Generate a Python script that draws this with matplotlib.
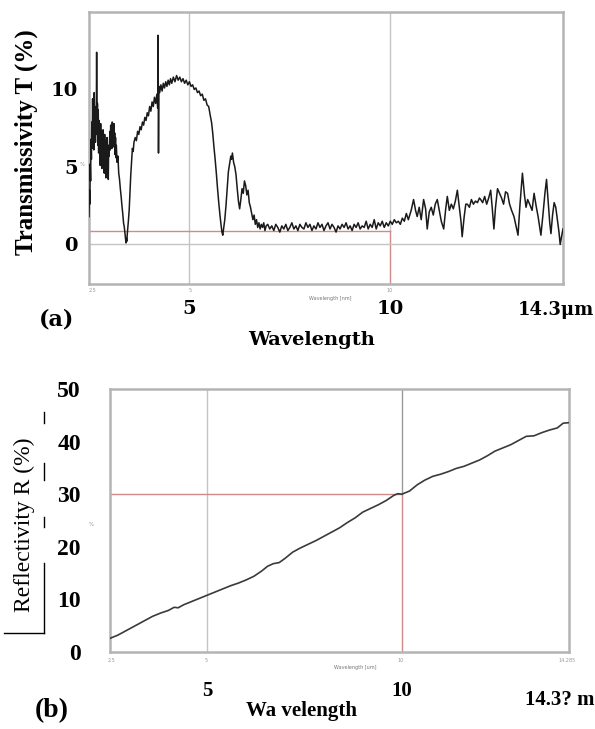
import matplotlib
matplotlib.use("Agg")
import matplotlib.pyplot as plt
from matplotlib.lines import Line2D

# ---------------- data: panel (a) transmissivity ----------------
wl_T = [2.50, 2.51, 2.52, 2.53, 2.54, 2.55, 2.56, 2.57, 2.58, 2.59, 2.60, 2.61, 2.62, 2.63, 2.64, 2.65,
        2.66, 2.67, 2.68, 2.69, 2.70, 2.71, 2.72, 2.73, 2.74, 2.75, 2.76, 2.77, 2.78, 2.79, 2.80, 2.81,
        2.82, 2.83, 2.84, 2.85, 2.86, 2.87, 2.88, 2.89, 2.90, 2.91, 2.92, 2.93, 2.94, 2.95, 2.96, 2.97,
        2.98, 2.99, 3.00, 3.02, 3.03, 3.04, 3.05, 3.06, 3.07, 3.08, 3.09, 3.10, 3.11, 3.12, 3.13, 3.14,
        3.15, 3.16, 3.17, 3.18, 3.20, 3.22, 3.24, 3.26, 3.28, 3.30, 3.32, 3.34, 3.36, 3.38, 3.40, 3.42,
        3.43, 3.44, 3.46, 3.48, 3.50, 3.52, 3.54, 3.56, 3.58, 3.60, 3.62,
        3.65, 3.68, 3.71, 3.74, 3.77, 3.80, 3.83, 3.86, 3.89, 3.92, 3.95, 3.98, 4.01, 4.04, 4.07, 4.10,
        4.13, 4.16, 4.19, 4.21, 4.22, 4.23, 4.24, 4.26, 4.29, 4.32, 4.35, 4.38, 4.41, 4.44, 4.47, 4.50,
        4.53, 4.56, 4.60, 4.64, 4.68, 4.72, 4.76, 4.80, 4.84, 4.88, 4.92, 4.96, 5.00, 5.04, 5.08, 5.12,
        5.16, 5.20, 5.24, 5.28, 5.32, 5.36, 5.40, 5.44, 5.48, 5.52, 5.55, 5.58, 5.61, 5.64, 5.67, 5.70,
        5.73, 5.76, 5.79, 5.81, 5.83, 5.85, 5.88, 5.91, 5.94, 5.97, 6.00, 6.03, 6.05, 6.07, 6.10, 6.13,
        6.16, 6.19, 6.22, 6.25, 6.28, 6.31, 6.34, 6.37, 6.40, 6.43, 6.46, 6.49, 6.52, 6.55, 6.58, 6.61,
        6.64, 6.67, 6.70, 6.73, 6.76, 6.79, 6.82, 6.85, 6.88, 6.91,
        6.95, 7.00, 7.05, 7.10, 7.15, 7.20, 7.25, 7.30, 7.35, 7.40, 7.45, 7.50, 7.55, 7.60, 7.65, 7.70,
        7.75, 7.80, 7.85, 7.90, 7.95, 8.00, 8.05, 8.10, 8.15, 8.20, 8.25, 8.30, 8.35, 8.40, 8.45, 8.50,
        8.55, 8.60, 8.65, 8.70, 8.75, 8.80, 8.85, 8.90, 8.95, 9.00, 9.05, 9.10, 9.15, 9.20, 9.25, 9.30,
        9.35, 9.40, 9.45, 9.50, 9.55, 9.60, 9.65, 9.70, 9.75, 9.80, 9.85, 9.90, 9.95, 10.00, 10.05, 10.10,
        10.15, 10.20, 10.25, 10.30, 10.35, 10.40, 10.45,
        10.52, 10.58, 10.63, 10.67, 10.72, 10.77, 10.83, 10.88, 10.92, 10.97, 11.02, 11.07, 11.12, 11.17,
        11.22, 11.27, 11.33, 11.38, 11.42, 11.47, 11.52, 11.57, 11.62, 11.67, 11.72, 11.76, 11.79, 11.84,
        11.88, 11.92, 11.97, 12.02, 12.07, 12.12, 12.17, 12.22, 12.25, 12.30, 12.35, 12.40, 12.45, 12.50,
        12.54, 12.58, 12.62, 12.67, 12.72, 12.77, 12.82, 12.87, 12.92, 12.97, 13.02, 13.08, 13.13, 13.18,
        13.23, 13.29, 13.34, 13.38, 13.42, 13.47, 13.53, 13.58, 13.63, 13.68, 13.72, 13.75, 13.80, 13.85,
        13.89, 13.93, 13.97, 14.00, 14.04, 14.08, 14.12, 14.16, 14.20, 14.23, 14.27, 14.30]

T_pct = [1.8, 3.5, 2.6, 5.2, 4.1, 6.8, 5.5, 7.9, 6.2, 9.4, 7.0, 8.6, 6.1, 9.8, 7.3, 8.9,
         6.6, 8.2, 7.1, 12.4, 7.6, 9.1, 6.4, 8.7, 5.9, 8.0, 6.3, 7.5, 5.1, 7.8, 6.0, 7.3,
         4.9, 6.9, 5.6, 7.4, 5.2, 6.6, 4.6, 7.1, 5.8, 6.7, 4.3, 6.2, 5.4, 6.9, 4.8, 6.0,
         4.2, 6.4, 5.7, 7.3, 6.1, 7.7, 6.5, 7.4, 6.2, 7.9, 6.8, 7.5, 6.3, 7.8, 6.6, 7.2,
         5.8, 6.9, 5.6, 6.4, 5.3, 5.7, 4.6, 4.2, 3.6, 3.1, 2.5, 2.0, 1.4, 1.1, 0.6, 0.1,
         0.4, 0.2, 0.9, 1.5, 2.2, 3.4, 4.5, 5.3, 6.2, 6.0, 6.6,
         6.9, 6.7, 7.3, 7.1, 7.6, 7.4, 7.9, 7.7, 8.2, 8.0, 8.5, 8.3, 8.9, 8.6, 9.2, 8.9,
         9.5, 9.1, 9.7, 8.8, 13.5, 5.9, 10.2, 9.8, 10.3, 9.9, 10.4, 10.1, 10.5, 10.2, 10.6, 10.3,
         10.7, 10.4, 10.8, 10.5, 10.9, 10.6, 10.8, 10.5, 10.7, 10.4, 10.6, 10.3, 10.5, 10.2, 10.3, 10.0,
         10.1, 9.8, 9.9, 9.6, 9.7, 9.3, 9.4, 9.0, 8.9, 8.3, 7.9, 7.2, 6.3, 5.5, 4.6, 3.6,
         2.7, 1.9, 1.2, 0.8, 0.6, 1.0, 1.6, 2.5, 3.6, 4.7, 5.2, 5.7, 5.5, 5.9, 5.3, 5.0,
         4.5, 3.6, 2.8, 2.3, 2.9, 3.6, 3.3, 4.1, 3.8, 3.2, 3.5, 2.7, 2.4, 2.0, 1.6, 1.9,
         1.3, 1.6, 1.1, 1.4, 1.0, 1.3, 1.1, 1.4, 0.9, 1.2,
         1.3, 1.0, 1.2, 0.9, 1.3, 1.1, 0.8, 1.2, 1.0, 1.3, 0.9, 1.1, 1.4, 1.0, 1.2, 0.9,
         1.3, 1.1, 1.0, 1.4, 1.1, 1.3, 0.9, 1.2, 1.0, 1.4, 1.1, 1.3, 0.9, 1.2, 1.4, 1.0,
         1.3, 1.1, 0.8, 1.2, 1.0, 1.3, 1.1, 1.4, 1.0, 1.2, 0.9, 1.3, 1.1, 1.4, 1.0, 1.2,
         1.1, 1.5, 1.0, 1.3, 1.1, 1.6, 1.0, 1.4, 1.2, 1.5, 1.1, 1.4, 1.2, 1.5, 1.3, 1.6,
         1.4, 1.5, 1.3, 1.7, 1.5, 2.0, 1.6,
         2.2, 2.9, 2.2, 1.8, 2.4, 1.6, 2.9, 2.3, 1.0, 2.1, 2.4, 1.9, 2.6, 2.9,
         2.2, 1.5, 1.0, 2.3, 3.1, 2.2, 2.6, 2.3, 2.8, 3.5, 2.4, 1.5, 0.5, 1.8,
         2.6, 2.6, 2.4, 2.9, 2.6, 2.8, 2.7, 3.0, 2.9, 2.7, 3.1, 2.6, 3.0, 3.5,
         2.3, 1.0, 2.4, 3.6, 3.3, 3.0, 2.6, 3.4, 3.3, 2.6, 2.2, 1.8, 1.2, 0.6,
         2.6, 4.6, 3.2, 2.4, 2.9, 2.6, 2.2, 3.3, 2.5, 1.8, 1.1, 0.6, 1.9, 3.3,
         4.2, 2.8, 1.4, 0.7, 1.9, 2.7, 2.4, 1.6, 0.8, 0.0, 0.6, 1.0]

T_ref_level = 0.84          # red reference level in (a)
T_yticks = [0, 5, 10]
T_yticklabels = ["0", "5", "10"]
T_xticks = [5, 10]
T_xticklabels = ["5", "10"]

# ---------------- data: panel (b) reflectivity ----------------
wl_R = [2.50, 2.60, 2.70, 2.85, 3.00, 3.20, 3.40, 3.60, 3.80, 4.00, 4.15, 4.25, 4.40, 4.60, 4.80,
        5.00, 5.20, 5.40, 5.60, 5.80, 6.00, 6.20, 6.40, 6.55, 6.70, 6.85, 7.00, 7.20, 7.40, 7.60,
        7.80, 8.00, 8.20, 8.40, 8.60, 8.80, 9.00, 9.20, 9.40, 9.60, 9.80, 9.90, 10.00, 10.20,
        10.40, 10.60, 10.80, 11.00, 11.20, 11.40, 11.60, 11.80, 12.00, 12.20, 12.40, 12.60, 12.80,
        13.00, 13.20, 13.40, 13.60, 13.80, 14.00, 14.15, 14.30]
R_pct = [2.6, 2.9, 3.2, 3.8, 4.4, 5.2, 6.0, 6.8, 7.4, 7.9, 8.5, 8.4, 9.0, 9.6, 10.2,
         10.8, 11.4, 12.0, 12.6, 13.1, 13.7, 14.4, 15.4, 16.3, 16.8, 17.0, 17.8, 19.0, 19.8, 20.5,
         21.2, 22.0, 22.8, 23.6, 24.6, 25.5, 26.6, 27.3, 28.0, 28.8, 29.8, 30.1, 30.0, 30.6,
         31.8, 32.7, 33.4, 33.8, 34.3, 34.9, 35.3, 35.9, 36.5, 37.3, 38.2, 38.8, 39.4,
         40.2, 41.0, 41.1, 41.7, 42.2, 42.6, 43.5, 43.6]

R_ref_level = 30
R_yticks = [0, 10, 20, 30, 40, 50]
R_yticklabels = ["0", "10", "20", "30", "40", "50"]
R_xticks = [5, 10]
R_xticklabels = ["5", "10"]

# ---------------- figure ----------------
W, H = 595, 729
fig = plt.figure(figsize=(W / 100, H / 100), dpi=100)
fig.patch.set_facecolor("white")


def fx(px):
    return px / W


def fy(py):
    return 1 - py / H


def axes_rect(l, t, r, b):
    return [fx(l), fy(b), fx(r) - fx(l), fy(t) - fy(b)]


GRID = "#c4c4c4"
RED = "#cf8a8a"
SPINE = "#b4b4b4"
SERIF_A = ["DejaVu Serif"]
SERIF_B = ["Liberation Serif"]

# ----- panel (a) -----
axA = fig.add_axes(axes_rect(89, 12, 563, 284))
axA.set_xlim(2.5, 14.3)
axA.set_ylim(-2.55, 15.0)
for s in axA.spines.values():
    s.set_color(SPINE)
    s.set_linewidth(1.8)
axA.axvline(5, color=GRID, lw=1.0, zorder=1)
axA.plot([10, 10], [T_ref_level, 15.0], color=GRID, lw=1.0, zorder=1)
axA.plot([10, 10], [-2.55, T_ref_level], color=RED, lw=1.0, zorder=1)
axA.axhline(0, color=GRID, lw=1.0, zorder=1)
axA.plot([2.5, 10], [T_ref_level, T_ref_level], color=RED, lw=1.0, zorder=1)
axA.plot(wl_T, T_pct, color="#1a1a1a", lw=1.1, zorder=3)

axA.set_yticks(T_yticks)
axA.set_yticklabels(T_yticklabels, fontfamily=SERIF_A, fontweight="bold", fontsize=14)
axA.set_xticks(T_xticks)
axA.set_xticklabels(T_xticklabels, fontfamily=SERIF_A, fontweight="bold", fontsize=14)
axA.tick_params(axis="y", length=0, pad=8)
axA.tick_params(axis="x", length=0, pad=11.5)

fig.text(fx(556), fy(310), "14.3\u03bcm", fontfamily=SERIF_A, fontweight="bold", fontsize=13,
         ha="center", va="center")
fig.text(fx(312), fy(340), "Wavelength", fontfamily=SERIF_A, fontweight="bold", fontsize=14,
         ha="center", va="center")
fig.text(fx(57), fy(320), "(a)", fontfamily=SERIF_A, fontweight="bold", fontsize=16,
         ha="center", va="center")
fig.text(fx(26), fy(142), "Transmissivity T (%)", fontfamily=SERIF_B, fontweight="bold",
         fontsize=18, rotation=90, ha="center", va="center")
# tiny instrument labels
fig.text(fx(330), fy(299), "Wavelength [nm]", fontsize=3.5, color="#777777", ha="center", va="center")
fig.text(fx(92), fy(290), "2.5", fontsize=3.5, color="#999999", ha="center", va="center")
fig.text(fx(190), fy(290), "5", fontsize=3.5, color="#999999", ha="center", va="center")
fig.text(fx(390), fy(290), "10", fontsize=3.5, color="#999999", ha="center", va="center")
fig.text(fx(82), fy(164), "%", fontsize=4, color="#999999", ha="center", va="center")

# ----- panel (b) -----
axB = fig.add_axes(axes_rect(110, 389, 569, 652))
axB.set_xlim(2.5, 14.3)
axB.set_ylim(0, 50)
for s in axB.spines.values():
    s.set_color(SPINE)
    s.set_linewidth(1.8)
axB.axvline(5, color=GRID, lw=1.0, zorder=1)
axB.plot([10, 10], [R_ref_level, 50], color="#9a9a9a", lw=1.0, zorder=1)
axB.plot([10, 10], [0, R_ref_level], color=RED, lw=1.0, zorder=1)
axB.plot([2.5, 10], [R_ref_level, R_ref_level], color=RED, lw=1.0, zorder=1)
axB.plot(wl_R, R_pct, color="#3a3a3a", lw=1.2, zorder=3)

axB.set_yticks(R_yticks)
axB.set_yticklabels(R_yticklabels, fontfamily=SERIF_B, fontweight="bold", fontsize=17)
axB.set_xticks(R_xticks)
axB.set_xticklabels(R_xticklabels, fontfamily=SERIF_B, fontweight="bold", fontsize=15)
axB.tick_params(axis="y", length=0, pad=21)
axB.tick_params(axis="x", length=0, pad=21)

fig.text(fx(560), fy(700), "14.3? m", fontfamily=SERIF_B, fontweight="bold", fontsize=15,
         ha="center", va="center")
fig.text(fx(301), fy(711), "Wa velength", fontfamily=SERIF_B, fontweight="bold", fontsize=15,
         ha="center", va="center")
fig.text(fx(52), fy(711), "(b)", fontfamily=SERIF_B, fontweight="bold", fontsize=20,
         ha="center", va="center")
fig.text(fx(24), fy(525), "Reflectivity R (%)", fontfamily=SERIF_B, fontsize=17,
         rotation=90, ha="center", va="center")
fig.text(fx(355), fy(668), "Wavelength [um]", fontsize=3.5, color="#777777", ha="center", va="center")
fig.text(fx(111), fy(660), "2.5", fontsize=3.5, color="#999999", ha="center", va="center")
fig.text(fx(206), fy(660), "5", fontsize=3.5, color="#999999", ha="center", va="center")
fig.text(fx(401), fy(660), "10", fontsize=3.5, color="#999999", ha="center", va="center")
fig.text(fx(567), fy(660), "14.285", fontsize=3.5, color="#999999", ha="center", va="center")
fig.text(fx(91), fy(525), "%", fontsize=4, color="#999999", ha="center", va="center")

# annotation strokes beside the (b) label
for (x0, y0, x1, y1) in [(44, 412, 44, 423), (44, 463, 44, 480), (44, 517, 44, 527),
                         (44, 563, 44, 633), (4, 633, 44, 633)]:
    fig.add_artist(Line2D([fx(x0), fx(x1)], [fy(y0), fy(y1)], color="black", lw=1.0,
                          transform=fig.transFigure))

fig.savefig("out.png", dpi=100)
